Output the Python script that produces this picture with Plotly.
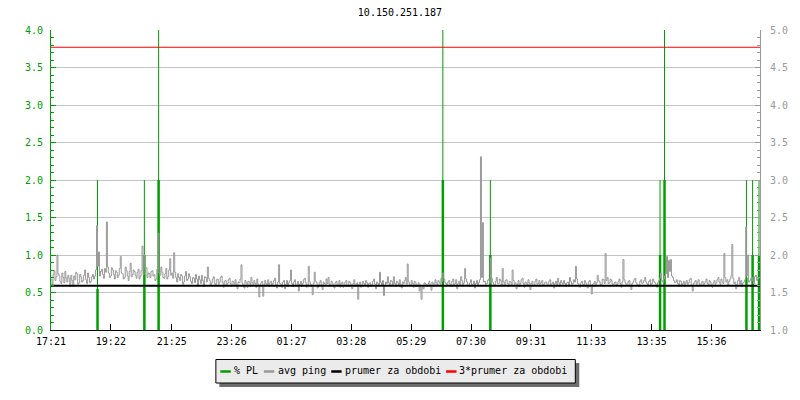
import plotly.graph_objects as go

# ---------------- data ----------------
chart_title = "10.150.251.187"
start_label = "17:21"
span_minutes = 1433
tick_labels = ["17:21", "19:22", "21:25", "23:26", "01:27", "03:28",
               "05:29", "07:30", "09:31", "11:33", "13:35", "15:36"]

sample_step = 4  # minutes between samples within each set
# avg ping samples taken at minutes 0, 4, 8, ...
avg_ping_a = [
    1.68, 1.74, 1.66, 2.00, 1.72, 1.62, 1.70, 1.78, 1.64, 1.69,
    1.73, 1.58, 1.67, 1.75, 1.63, 1.71, 1.66, 1.80, 1.62, 1.70,
    1.65, 1.74, 1.72, 2.39, 2.04, 1.78, 1.74, 1.82, 2.44, 1.76,
    1.72, 1.80, 1.68, 1.77, 1.73, 1.98, 1.75, 1.70, 1.79, 1.66,
    1.89, 1.74, 1.78, 1.69, 1.81, 1.72, 2.12, 2.00, 1.83, 1.76,
    1.70, 1.79, 1.74, 1.68, 2.29, 1.73, 1.77, 1.69, 1.82, 1.71,
    1.95, 1.76, 2.03, 1.70, 1.75, 1.66, 1.72, 1.64, 1.78, 1.68,
    1.71, 1.62, 1.69, 1.74, 1.60, 1.67, 1.73, 1.58, 1.70, 1.84,
    1.66, 1.63, 1.71, 1.59, 1.68, 1.64, 1.72, 1.57, 1.66, 1.62,
    1.69, 1.58, 1.64, 1.67, 1.55, 1.63, 1.87, 1.60, 1.66, 1.57,
    1.64, 1.70, 1.59, 1.62, 1.68, 1.44, 1.63, 1.45, 1.66, 1.60,
    1.58, 1.65, 1.62, 1.69, 1.56, 1.87, 1.61, 1.64, 1.55, 1.66,
    1.63, 1.80, 1.58, 1.67, 1.60, 1.52, 1.65, 1.62, 1.69, 1.57,
    1.85, 1.61, 1.47, 1.77, 1.63, 1.58, 1.66, 1.54, 1.62, 1.68,
    1.70, 1.59, 1.63, 1.56, 1.65, 1.61, 1.57, 1.64, 1.60, 1.66,
    1.58, 1.63, 1.55, 1.67, 1.61, 1.41, 1.64, 1.59, 1.62, 1.66,
    1.57, 1.63, 1.60, 1.68, 1.55, 1.62, 1.77, 1.59, 1.46, 1.64,
    1.71, 1.60, 1.65, 1.71, 1.58, 1.63, 1.67, 1.56, 1.62, 1.70,
    1.88, 1.61, 1.66, 1.57, 1.63, 1.59, 1.52, 1.41, 1.55, 1.62,
    1.58, 1.65, 1.53, 1.62, 1.67, 1.60, 1.64, 1.69, 1.76, 1.63,
    1.60, 1.66, 1.58, 1.68, 1.62, 1.55, 1.65, 1.71, 1.60, 1.82,
    1.64, 1.58, 1.67, 1.61, 1.56, 1.66, 1.63, 3.31, 2.43, 1.65,
    1.62, 1.68, 1.96, 1.64, 1.59, 1.70, 1.62, 1.66, 1.82, 1.60,
    1.67, 1.58, 1.64, 1.80, 1.61, 1.55, 1.66, 1.62, 1.69, 1.57,
    1.63, 1.67, 1.54, 1.65, 1.60, 1.68, 1.62, 1.58, 1.66, 1.61,
    1.64, 1.59, 1.67, 1.62, 1.56, 1.65, 1.69, 1.60, 1.63, 1.66,
    1.58, 1.64, 1.70, 1.61, 1.67, 1.85, 1.62, 1.57, 1.65, 1.60,
    1.63, 1.56, 1.66, 1.48, 1.62, 1.59, 1.73, 1.64, 1.61, 1.67,
    2.02, 1.70, 1.63, 1.66, 1.59, 1.64, 1.61, 1.68, 1.57, 1.94,
    1.63, 1.60, 1.66, 1.54, 1.64, 1.69, 1.61, 1.58, 1.67, 1.63,
    1.70, 1.62, 1.65, 1.59, 1.68, 1.63, 1.57, 1.66, 1.76, 1.64,
    1.72, 1.98, 1.93, 1.94, 1.70, 1.63, 1.67, 1.60, 1.65, 1.62,
    1.58, 1.66, 1.63, 1.69, 1.52, 1.64, 1.61, 1.67, 1.59, 1.65,
    1.62, 1.68, 1.60, 1.64, 1.57, 1.66, 1.63, 1.70, 1.61, 1.65,
    2.02, 1.64, 1.60, 1.68, 2.14, 1.62, 1.55, 1.66, 1.61, 1.58,
    1.64, 2.37, 2.00, 1.66, 1.70, 1.62, 1.73, 1.68,
]
# avg ping samples taken at minutes 2, 6, 10, ...
avg_ping_b = [
    1.60, 1.79, 1.71, 1.75, 1.65, 1.76, 1.63, 1.69, 1.73, 1.58,
    1.66, 1.72, 1.77, 1.61, 1.74, 1.64, 1.73, 1.67, 1.76, 1.63,
    1.71, 1.68, 1.80, 1.85, 1.72, 1.81, 1.69, 1.77, 1.84, 1.70,
    1.83, 1.74, 1.79, 1.70, 1.82, 1.76, 1.68, 1.84, 1.72, 1.78,
    1.71, 1.80, 1.73, 1.77, 1.68, 1.79, 1.74, 1.82, 1.70, 1.75,
    1.78, 1.72, 1.66, 1.81, 1.76, 1.84, 1.70, 1.75, 1.68, 1.80,
    1.73, 1.69, 1.77, 1.64, 1.70, 1.74, 1.61, 1.72, 1.66, 1.75,
    1.65, 1.70, 1.63, 1.68, 1.72, 1.62, 1.66, 1.71, 1.64, 1.69,
    1.60, 1.68, 1.62, 1.67, 1.61, 1.70, 1.63, 1.65, 1.59, 1.67,
    1.62, 1.65, 1.59, 1.61, 1.64, 1.68, 1.62, 1.56, 1.63, 1.65,
    1.58, 1.63, 1.66, 1.57, 1.61, 1.59, 1.65, 1.60, 1.62, 1.67,
    1.63, 1.59, 1.66, 1.60, 1.64, 1.62, 1.57, 1.66, 1.61, 1.58,
    1.66, 1.62, 1.64, 1.59, 1.65, 1.61, 1.58, 1.67, 1.63, 1.60,
    1.64, 1.58, 1.62, 1.65, 1.56, 1.63, 1.60, 1.64, 1.59, 1.62,
    1.61, 1.65, 1.58, 1.63, 1.60, 1.66, 1.62, 1.57, 1.64, 1.59,
    1.65, 1.60, 1.62, 1.58, 1.63, 1.61, 1.57, 1.65, 1.60, 1.63,
    1.62, 1.58, 1.65, 1.61, 1.64, 1.60, 1.63, 1.66, 1.59, 1.62,
    1.63, 1.66, 1.59, 1.62, 1.65, 1.60, 1.58, 1.64, 1.66, 1.61,
    1.64, 1.59, 1.62, 1.65, 1.58, 1.63, 1.60, 1.57, 1.63, 1.60,
    1.62, 1.60, 1.64, 1.58, 1.63, 1.66, 1.61, 1.65, 1.68, 1.62,
    1.64, 1.61, 1.65, 1.60, 1.67, 1.62, 1.59, 1.66, 1.63, 1.68,
    1.60, 1.63, 1.59, 1.65, 1.62, 1.60, 1.67, 1.70, 1.64, 1.61,
    1.66, 1.63, 1.69, 1.61, 1.65, 1.62, 1.68, 1.60, 1.64, 1.66,
    1.62, 1.65, 1.60, 1.66, 1.63, 1.61, 1.58, 1.67, 1.62, 1.64,
    1.60, 1.63, 1.62, 1.59, 1.65, 1.61, 1.66, 1.63, 1.60, 1.64,
    1.61, 1.65, 1.60, 1.64, 1.62, 1.59, 1.63, 1.66, 1.61, 1.62,
    1.63, 1.60, 1.65, 1.62, 1.64, 1.68, 1.60, 1.63, 1.61, 1.66,
    1.60, 1.64, 1.58, 1.61, 1.65, 1.63, 1.66, 1.60, 1.68, 1.62,
    1.66, 1.62, 1.68, 1.61, 1.63, 1.60, 1.65, 1.62, 1.64, 1.67,
    1.61, 1.64, 1.59, 1.62, 1.67, 1.63, 1.60, 1.65, 1.62, 1.66,
    1.64, 1.60, 1.67, 1.62, 1.65, 1.61, 1.63, 1.69, 1.66, 1.68,
    1.75, 1.70, 1.78, 1.72, 1.66, 1.64, 1.62, 1.66, 1.60, 1.65,
    1.63, 1.61, 1.67, 1.60, 1.62, 1.66, 1.64, 1.61, 1.63, 1.60,
    1.65, 1.62, 1.66, 1.60, 1.63, 1.61, 1.67, 1.64, 1.68, 1.62,
    1.70, 1.67, 1.65, 1.72, 1.69, 1.64, 1.61, 1.70, 1.66, 1.63,
    1.67, 1.72, 1.64, 1.69, 1.65, 1.71, 1.66, 1.70,
]

# packet loss events (% PL): minute offset, peak value, sustained level
pl_minutes = [94, 188.7, 217.5, 792, 888, 1231, 1240, 1405.6, 1418, 1431]
pl_peak = [2.0, 2.0, 4.5, 4.5, 2.0, 2.0, 4.5, 2.0, 2.0, 2.0]
pl_level = [0.55, 1.0, 2.0, 2.0, 1.0, 1.0, 2.0, 0.7, 1.0, 1.0]

prumer = 1.59  # average ping over the period

legend_names = ["% PL", "avg ping", "prumer za obdobi", "3*prumer za obdobi"]

# ---------------- styles ----------------
GREEN = "#009f00"
GRAY = "#9a9a9a"
GRID = "#c4c4c4"
FONT = "DejaVu Sans Mono"

def to_min(lbl):
    h, m = map(int, lbl.split(":"))
    sh, sm = map(int, start_label.split(":"))
    return (h * 60 + m - (sh * 60 + sm)) % 1440

tick_vals = [to_min(t) for t in tick_labels]

pts = [(i * sample_step, v) for i, v in enumerate(avg_ping_a)]
pts += [(i * sample_step + sample_step / 2, v) for i, v in enumerate(avg_ping_b)]
pts.sort()
ping_x = [p[0] for p in pts]
ping_y = [p[1] for p in pts]

thin_x, thin_y, thick_x, thick_y = [], [], [], []
for t, p, l in zip(pl_minutes, pl_peak, pl_level):
    thin_x += [t, t, None]
    thin_y += [0, p, None]
    thick_x += [t, t, None]
    thick_y += [0, l, None]

fig = go.Figure()
fig.add_trace(go.Scatter(x=thin_x, y=thin_y, mode="lines", name=legend_names[0],
                         line=dict(color=GREEN, width=1), yaxis="y", showlegend=False))
fig.add_trace(go.Scatter(x=thick_x, y=thick_y, mode="lines", name=legend_names[0],
                         line=dict(color=GREEN, width=2.5), yaxis="y", showlegend=False))
fig.add_trace(go.Scatter(x=ping_x, y=ping_y, mode="lines", name=legend_names[1],
                         line=dict(color=GRAY, width=1, shape="hv"), yaxis="y2",
                         showlegend=False))
fig.add_trace(go.Scatter(x=[0, span_minutes], y=[prumer, prumer], mode="lines",
                         name=legend_names[2], line=dict(color="black", width=2),
                         yaxis="y2", showlegend=False))
fig.add_trace(go.Scatter(x=[0, span_minutes], y=[3 * prumer, 3 * prumer], mode="lines",
                         name=legend_names[3], line=dict(color="#ff0000", width=1),
                         yaxis="y2", showlegend=False))

# ---------------- layout ----------------
W, H = 800, 400
ML, MR, MT, MB = 51, 33, 30, 70
PW, PH = W - ML - MR, H - MT - MB

def px_x(p):
    return (p - ML) / PW

def px_y(p):
    return (MT + PH - p) / PH

shapes = []
annotations = []
# legend box with shadow
shapes.append(dict(type="rect", xref="paper", yref="paper",
                   x0=px_x(221), x1=px_x(584.5), y0=px_y(387), y1=px_y(363),
                   fillcolor="#6e6e6e", line=dict(width=0), layer="above"))
shapes.append(dict(type="rect", xref="paper", yref="paper",
                   x0=px_x(217.5), x1=px_x(580.5), y0=px_y(383), y1=px_y(359.5),
                   fillcolor="#ebebeb", line=dict(color="black", width=1), layer="above"))
legend_colors = [GREEN, GRAY, "black", "#ff0000"]
glyph_x = [222, 266, 334, 450]
text_x = [236, 280, 348, 463.5]
for name, col, gx, tx in zip(legend_names, legend_colors, glyph_x, text_x):
    shapes.append(dict(type="line", xref="paper", yref="paper",
                       x0=px_x(gx), x1=px_x(gx + 10.5), y0=px_y(371.5), y1=px_y(371.5),
                       line=dict(color=col, width=2.5), layer="above"))
    annotations.append(dict(text=name, xref="paper", yref="paper", x=px_x(tx - 2),
                            y=px_y(370.5), xanchor="left", yanchor="middle",
                            showarrow=False, font=dict(family=FONT, size=10, color="black")))

fig.update_layout(
    width=W, height=H,
    margin=dict(l=ML, r=MR, t=MT, b=MB),
    paper_bgcolor="white", plot_bgcolor="white",
    title=dict(text=chart_title, x=0.5, xanchor="center", y=1 - 12 / H, yanchor="middle",
               font=dict(family=FONT, size=10, color="black")),
    showlegend=False,
    shapes=shapes,
    annotations=annotations,
    xaxis=dict(range=[0, span_minutes], tickmode="array", tickvals=tick_vals,
               ticktext=tick_labels, ticks="inside", ticklen=6, tickcolor="black",
               tickwidth=1, showline=True, linecolor="black", linewidth=1,
               showgrid=False, zeroline=False, ticklabelstandoff=2,
               tickfont=dict(family=FONT, size=10, color="black")),
    yaxis=dict(range=[0, 4], dtick=0.5, tickformat=".1f", ticks="inside", ticklen=5,
               tickcolor=GREEN, showline=True, linecolor=GREEN, linewidth=1,
               showgrid=True, gridcolor=GRID, gridwidth=1, zeroline=False,
               ticklabelstandoff=5,
               tickfont=dict(family=FONT, size=10, color=GREEN),
               minor=dict(dtick=0.1, ticks="inside", ticklen=3, tickcolor=GREEN,
                          showgrid=False)),
    yaxis2=dict(range=[1, 5], dtick=0.5, tickformat=".1f", overlaying="y", side="right",
                ticks="inside", ticklen=5, tickcolor=GRAY, showline=True, linecolor=GRAY,
                linewidth=1, showgrid=False, zeroline=False, ticklabelstandoff=7,
                tickfont=dict(family=FONT, size=10, color=GRAY),
                minor=dict(dtick=0.1, ticks="inside", ticklen=3, tickcolor=GRAY,
                           showgrid=False)),
)

fig.write_html("out.html", config={"displayModeBar": False},
               post_script="document.body.style.margin='0';document.body.style.overflow='hidden';")
